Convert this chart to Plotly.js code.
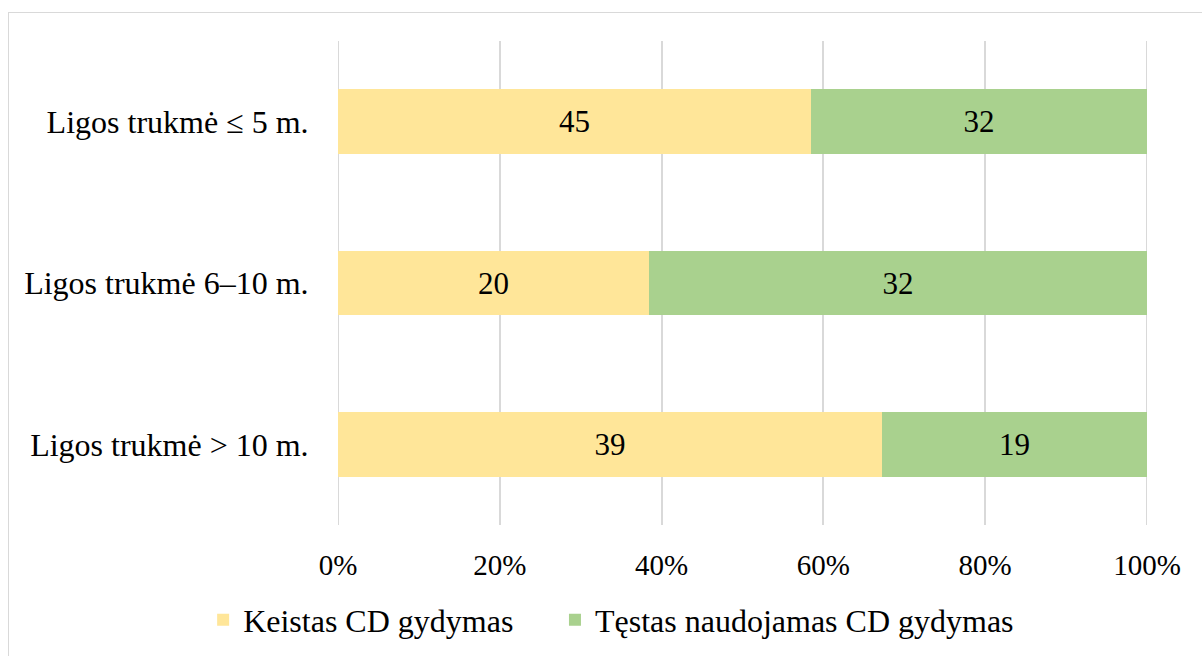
<!DOCTYPE html>
<html>
<head>
<meta charset="utf-8">
<script src="https://cdn.plot.ly/plotly-3.0.1.min.js"></script>
<style>
html,body{margin:0;padding:0;background:#fff;overflow:hidden;width:1202px;height:656px;}
#chart{position:absolute;left:0;top:0;width:1202px;height:656px;}
#frame{position:absolute;left:8px;top:12px;width:1220px;height:680px;border:1px solid #d9d9d9;pointer-events:none;}
</style>
</head>
<body>
<div id="chart"></div>
<div id="frame"></div>
<script>
const categories = ["Ligos trukmė ≤ 5 m.", "Ligos trukmė 6–10 m.", "Ligos trukmė > 10 m."];
const seriesNames = ["Keistas CD gydymas", "Tęstas naudojamas CD gydymas"];
const changed = [45, 20, 39];
const continued = [32, 32, 19];
const tickVals = [0, 20, 40, 60, 80, 100];
const tickText = ["0%", "20%", "40%", "60%", "80%", "100%"];

const font = "Liberation Serif";
const traces = [
  {name: seriesNames[0], values: changed, color: "#FFE699", legend: "legend"},
  {name: seriesNames[1], values: continued, color: "#A9D18E", legend: "legend2"}
].map(s => ({
  type: "bar",
  orientation: "h",
  name: s.name,
  legend: s.legend,
  y: categories,
  x: s.values,
  text: s.values.map(String),
  textposition: "inside",
  insidetextanchor: "middle",
  textfont: {family: font, size: 31, color: "#000"},
  marker: {color: s.color, line: {width: 0}},
  hoverinfo: "skip"
}));

const edgeLines = [tickVals[0], tickVals[tickVals.length - 1]].map(v => ({
  type: "line", xref: "x", yref: "paper", x0: v, x1: v, y0: 0, y1: 1,
  line: {color: "#d9d9d9", width: 2}, layer: "below"
}));

const legendBase = {
  orientation: "h",
  xref: "container", yref: "container",
  xanchor: "left",
  y: 0.055, yanchor: "middle",
  font: {family: font, size: 32, color: "#000"},
  itemwidth: 30,
  bgcolor: "rgba(0,0,0,0)"
};

const layout = {
  width: 1202, height: 656,
  margin: {l: 338, r: 55, t: 41, b: 131, autoexpand: false},
  barmode: "stack",
  barnorm: "percent",
  bargap: 0.6,
  paper_bgcolor: "#fff",
  plot_bgcolor: "#fff",
  font: {family: font, size: 29, color: "#000"},
  shapes: edgeLines,
  xaxis: {
    range: [0, 100],
    automargin: false,
    tickvals: tickVals,
    ticktext: tickText,
    showgrid: true,
    gridcolor: "#d9d9d9",
    gridwidth: 2,
    zeroline: false,
    showline: false,
    ticks: "outside",
    ticklen: 14,
    tickcolor: "rgba(0,0,0,0)",
    tickfont: {family: font, size: 29, color: "#000"}
  },
  yaxis: {
    type: "category",
    automargin: false,
    autorange: "reversed",
    showgrid: false,
    zeroline: false,
    showline: false,
    ticks: "outside",
    ticklen: 22,
    tickcolor: "rgba(0,0,0,0)",
    tickfont: {family: font, size: 32, color: "#000"}
  },
  showlegend: true,
  legend: Object.assign({}, legendBase, {x: 0.169}),
  legend2: Object.assign({}, legendBase, {x: 0.4617})
};

Plotly.newPlot("chart", traces, layout, {displayModeBar: false, staticPlot: true});
</script>
</body>
</html>
